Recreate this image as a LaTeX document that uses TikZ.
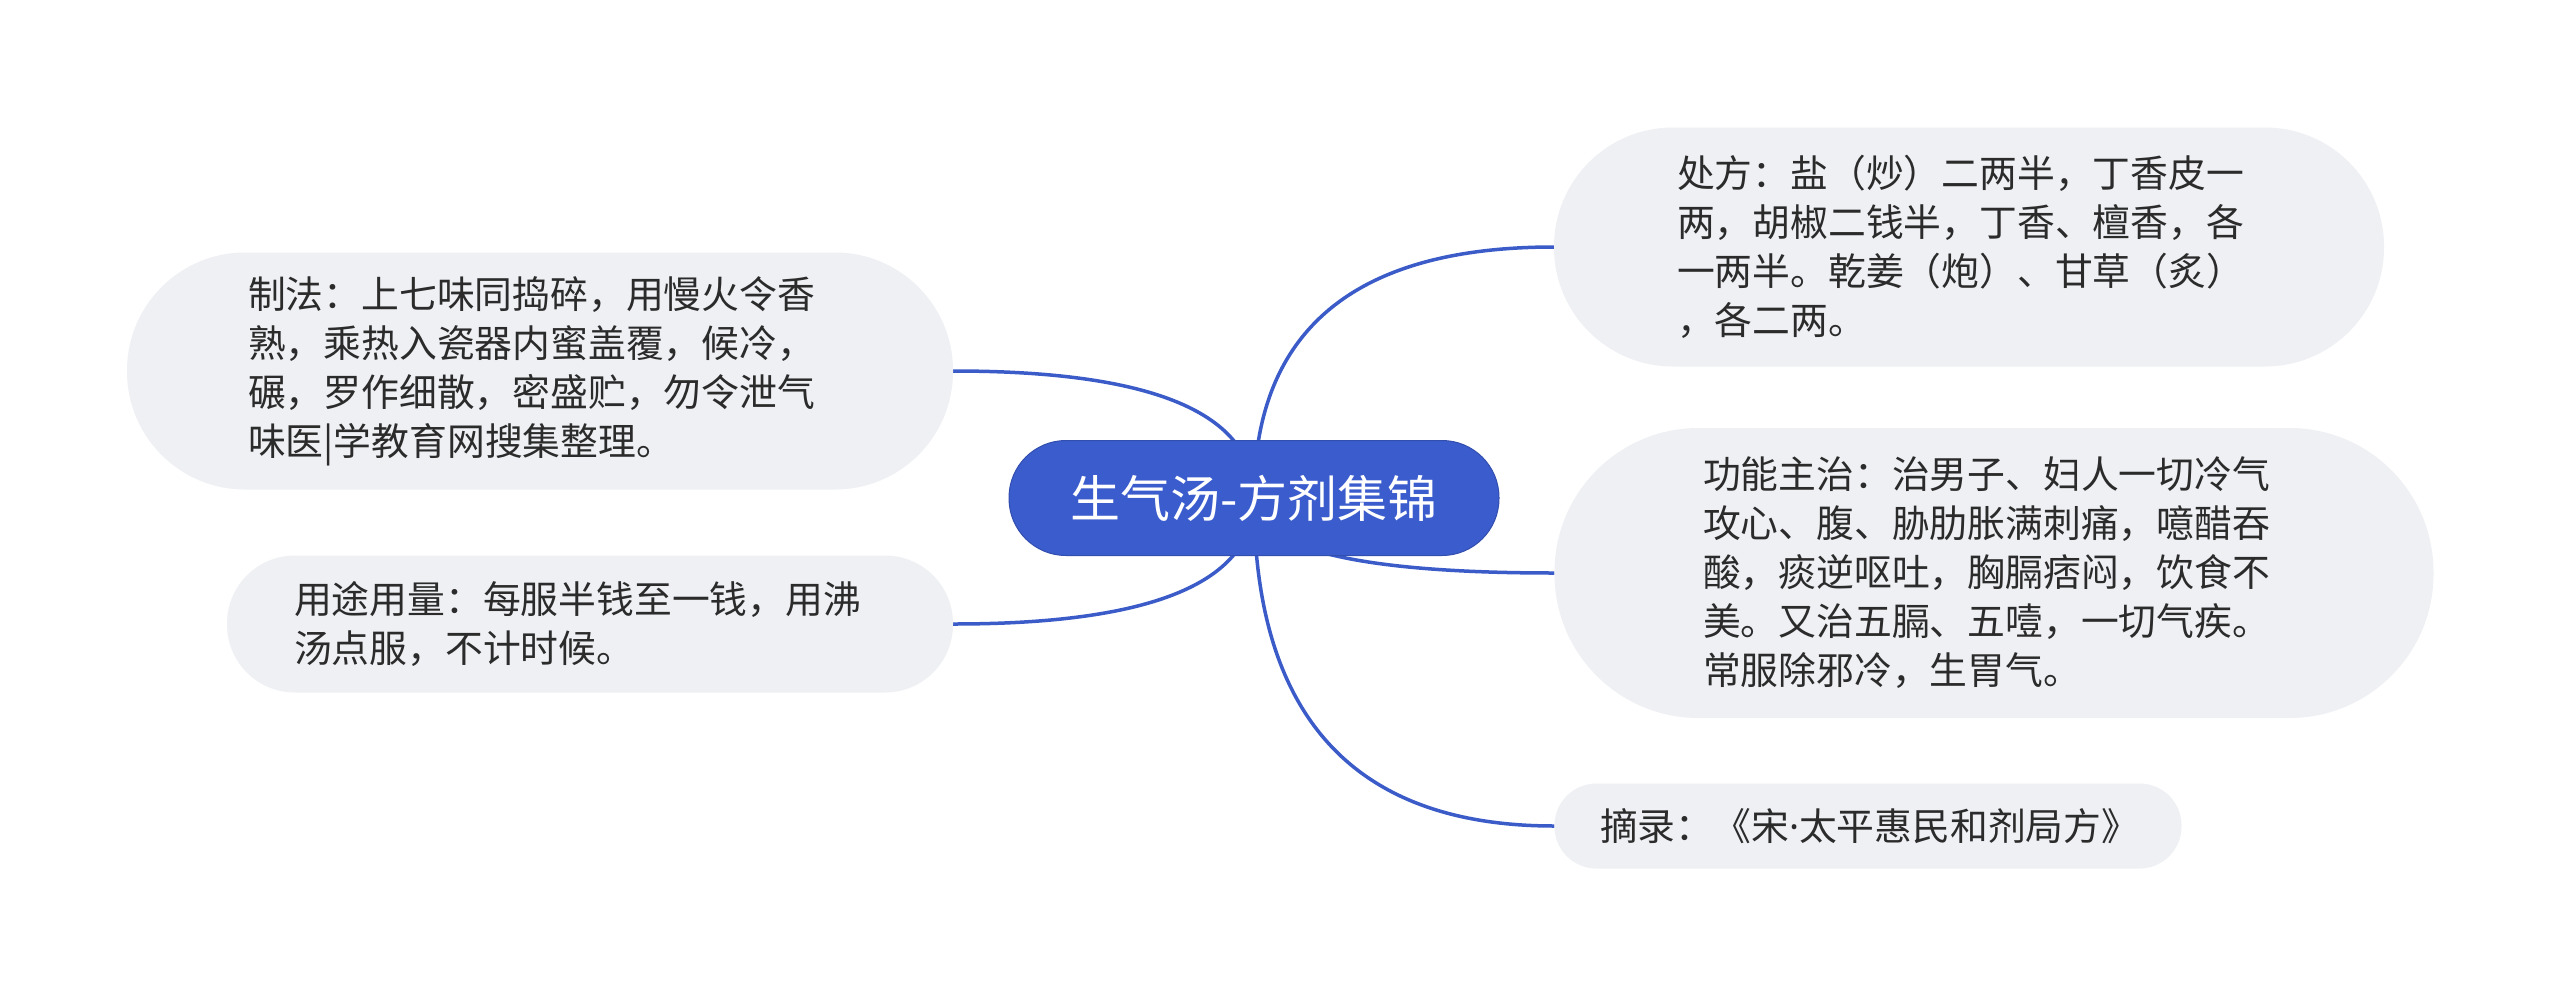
\documentclass[tikz,border=0pt]{standalone}
\usepackage{fontspec}
\newfontfamily\cjk{Noto Sans CJK SC}
\newfontfamily\latn{Noto Sans}
\usetikzlibrary{calc,backgrounds}
\definecolor{mainblue}{HTML}{3B5CCD}
\definecolor{linkblue}{HTML}{3A5BC8}
\definecolor{leaf}{HTML}{EEF0F4}
\definecolor{ink}{HTML}{2B2B2B}
\tikzset{
  rootbox/.style={fill=mainblue, draw=mainblue!85!black, line width=1pt, text=white, inner sep=0pt,
    font=\cjk\fontsize{50}{60}\selectfont, minimum width=490pt, minimum height=115pt, rounded corners=57pt},
  leafbox/.style={fill=leaf, draw=none, text=ink, inner sep=0pt, align=left,
    font=\cjk\fontsize{37.8}{49}\selectfont},
  link/.style={draw=linkblue, line width=3.5pt}
}
\begin{document}
\begin{tikzpicture}[x=1pt,y=-1pt]
\useasboundingbox (0,0) rectangle (2560,996);
\node[rootbox] (root) at (1254,498) {生气汤-方剂集锦};
\node[leafbox, minimum width=830pt, minimum height=239pt, rounded corners=119pt, text width=584pt] (chufang) at (1969,247)
  {处方：盐（炒）二两半，丁香皮一\\两，胡椒二钱半，丁香、檀香，各\\一两半。乾姜（炮）、甘草（炙）\\，各二两。};
\node[leafbox, minimum width=879pt, minimum height=290pt, rounded corners=144pt, text width=582pt] (gongneng) at (1994,573)
  {功能主治：治男子、妇人一切冷气\\攻心、腹、胁肋胀满刺痛，噫醋吞\\酸，痰逆呕吐，胸膈痞闷，饮食不\\美。又治五膈、五噎，一切气疾。\\常服除邪冷，生胃气。};
\node[leafbox, minimum width=627pt, minimum height=85pt, rounded corners=42pt, text width=536pt] (zhailu) at (1868,826)
  {摘录：《宋{\latn ·}太平惠民和剂局方》};
\node[leafbox, minimum width=826pt, minimum height=237pt, rounded corners=118pt, text width=584pt] (zhifa) at (540,371)
  {制法：上七味同捣碎，用慢火令香\\熟，乘热入瓷器内蜜盖覆，候冷，\\碾，罗作细散，密盛贮，勿令泄气\\味医|学教育网搜集整理。};
\node[leafbox, minimum width=726pt, minimum height=137pt, rounded corners=68pt, text width=592pt] (yongtu) at (590,624)
  {用途用量：每服半钱至一钱，用沸\\汤点服，不计时候。};
\begin{scope}[on background layer]
  \fill[white] (0,0) rectangle (2560,996);
  \foreach \ch/\side in {chufang/west, gongneng/west, zhailu/west, zhifa/east, yongtu/east}{
    \draw[link] (root.center) .. controls ($(root.center)!2/3!(root.center|-\ch.\side)$)
      and ($(\ch.\side)!2/3!(root.center|-\ch.\side)$) .. (\ch.\side);
  }
\end{scope}
\end{tikzpicture}
\end{document}
